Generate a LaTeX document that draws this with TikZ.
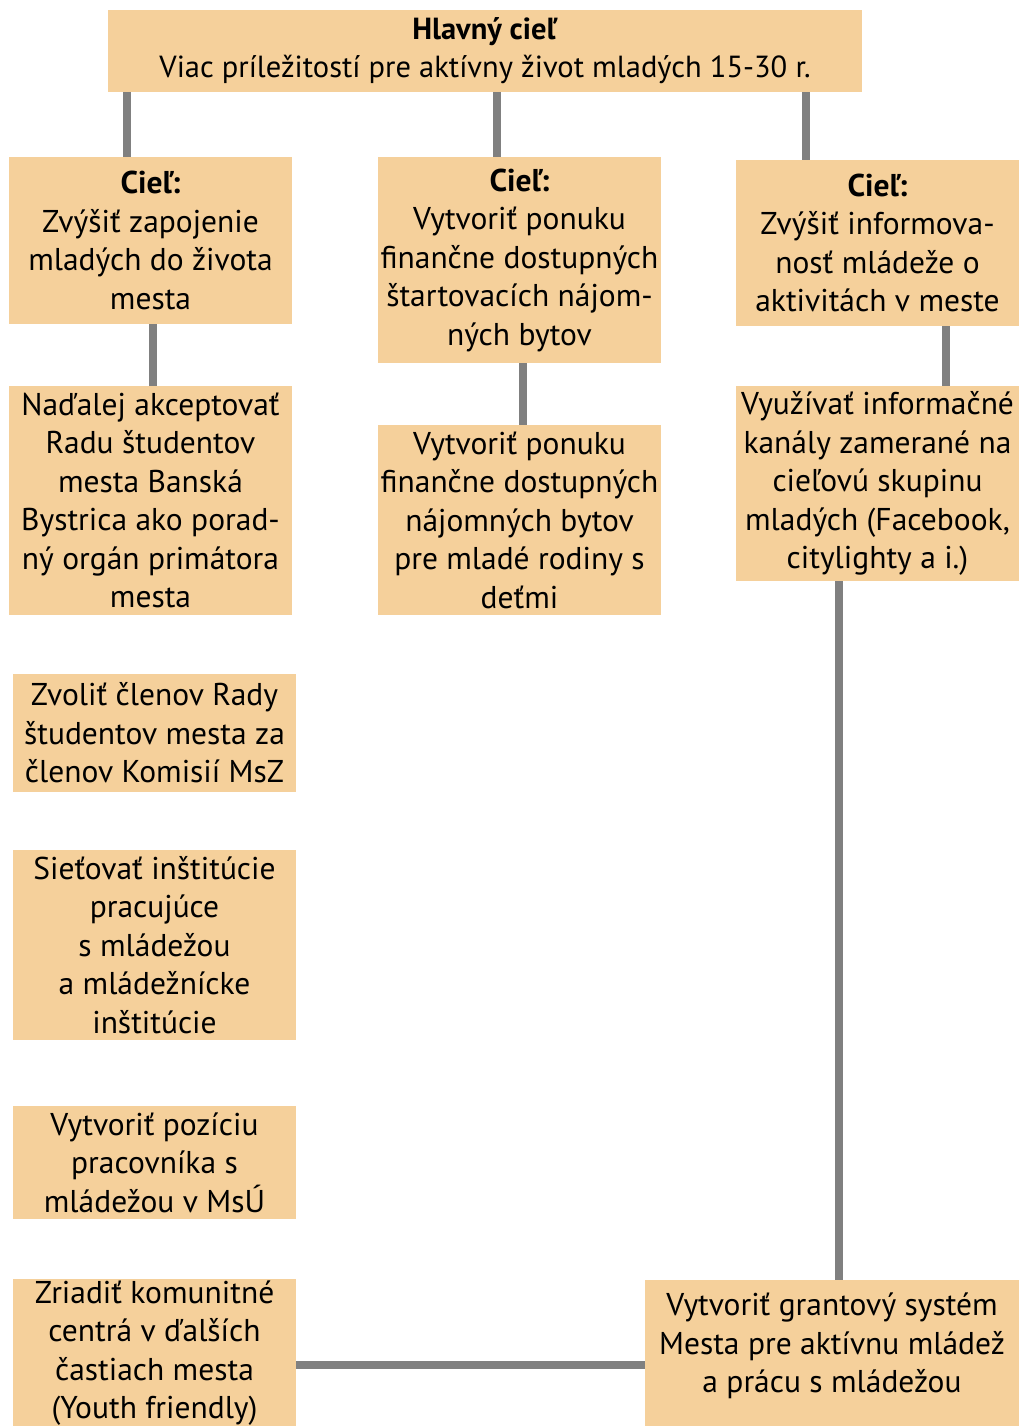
\documentclass[tikz,border=0pt]{standalone}
\usepackage{fontspec}
\setmainfont{PT Sans}
\definecolor{boxfill}{HTML}{F5D09B}
\definecolor{linegray}{HTML}{808080}
\tikzset{
  goalbox/.style={fill=boxfill, draw=none, inner sep=0pt, align=center,
    font=\fontsize{31.5}{38.5}\selectfont, text=black},
  link/.style={draw=linegray, line width=7.5pt}
}
\newcommand{\mkbox}[6]{% name, x1, y1, x2, y2, text
  \node[goalbox, minimum width={(#4-#2)*1pt}, minimum height={(#5-#3)*1pt}]
    (#1) at ({(#2+#4)/2},{(#3+#5)/2}) {#6};}
\begin{document}
\begin{tikzpicture}[x=1pt,y=-1pt]
\useasboundingbox (0,0) rectangle (1022,1426);
% main
\node[goalbox, minimum width=754pt, minimum height=82pt, font=\fontsize{30.5}{38}\selectfont]
  (main) at (485,51) {\textbf{Hlavný cieľ}\\Viac príležitostí pre aktívny život mladých 15-30 r.};
\mkbox{g1}{9}{157}{292}{324}{\textbf{Cieľ:}\\Zvýšiť zapojenie\\mladých do života\\mesta}
\mkbox{g2}{378}{157}{661}{363}{\textbf{Cieľ:}\\Vytvoriť ponuku\\finančne dostupných\\štartovacích nájom-\\ných bytov}
\mkbox{g3}{736}{160}{1019}{326}{\textbf{Cieľ:}\\Zvýšiť informova-\\nosť mládeže o\\aktivitách v meste}
\mkbox{a1}{9}{386}{292}{615}{Naďalej akceptovať\\Radu študentov\\mesta Banská\\Bystrica ako porad-\\ný orgán primátora\\mesta}
\mkbox{b1}{378}{425}{661}{615}{Vytvoriť ponuku\\finančne dostupných\\nájomných bytov\\pre mladé rodiny s\\deťmi}
\mkbox{c1}{736}{386}{1019}{581}{Využívať informačné\\kanály zamerané na\\cieľovú skupinu\\mladých (Facebook,\\citylighty a i.)}
\mkbox{a2}{13}{674}{296}{792}{Zvoliť členov Rady\\študentov mesta za\\členov Komisií MsZ}
\mkbox{a3}{13}{850}{296}{1040}{Sieťovať inštitúcie\\pracujúce\\s mládežou\\a mládežnícke\\inštitúcie}
\mkbox{a4}{13}{1106}{296}{1219}{Vytvoriť pozíciu\\pracovníka s\\mládežou v MsÚ}
\mkbox{a5}{13}{1279}{296}{1427}{Zriadiť komunitné\\centrá v ďalších\\častiach mesta\\(Youth friendly)}
\mkbox{c2}{645}{1280}{1019}{1426}{}
\node[goalbox, fill=none] (c2text) at ([yshift=7pt]c2.center) {Vytvoriť grantový systém\\Mesta pre aktívnu mládež\\a prácu s mládežou};
% connectors
\draw[link] (main.south -| 127,0) -- (g1.north -| 127,0);
\draw[link] (main.south -| 497,0) -- (g2.north -| 497,0);
\draw[link] (main.south -| 806,0) -- (g3.north -| 806,0);
\draw[link] (g1.south -| 153,0) -- (a1.north -| 153,0);
\draw[link] (g2.south -| 523,0) -- (b1.north -| 523,0);
\draw[link] (g3.south -| 946,0) -- (c1.north -| 946,0);
\draw[link] (c1.south -| 839,0) -- (c2.north -| 839,0);
\draw[link] (a5.east |- 0,1365) -- (c2.west |- 0,1365);
\end{tikzpicture}
\end{document}
